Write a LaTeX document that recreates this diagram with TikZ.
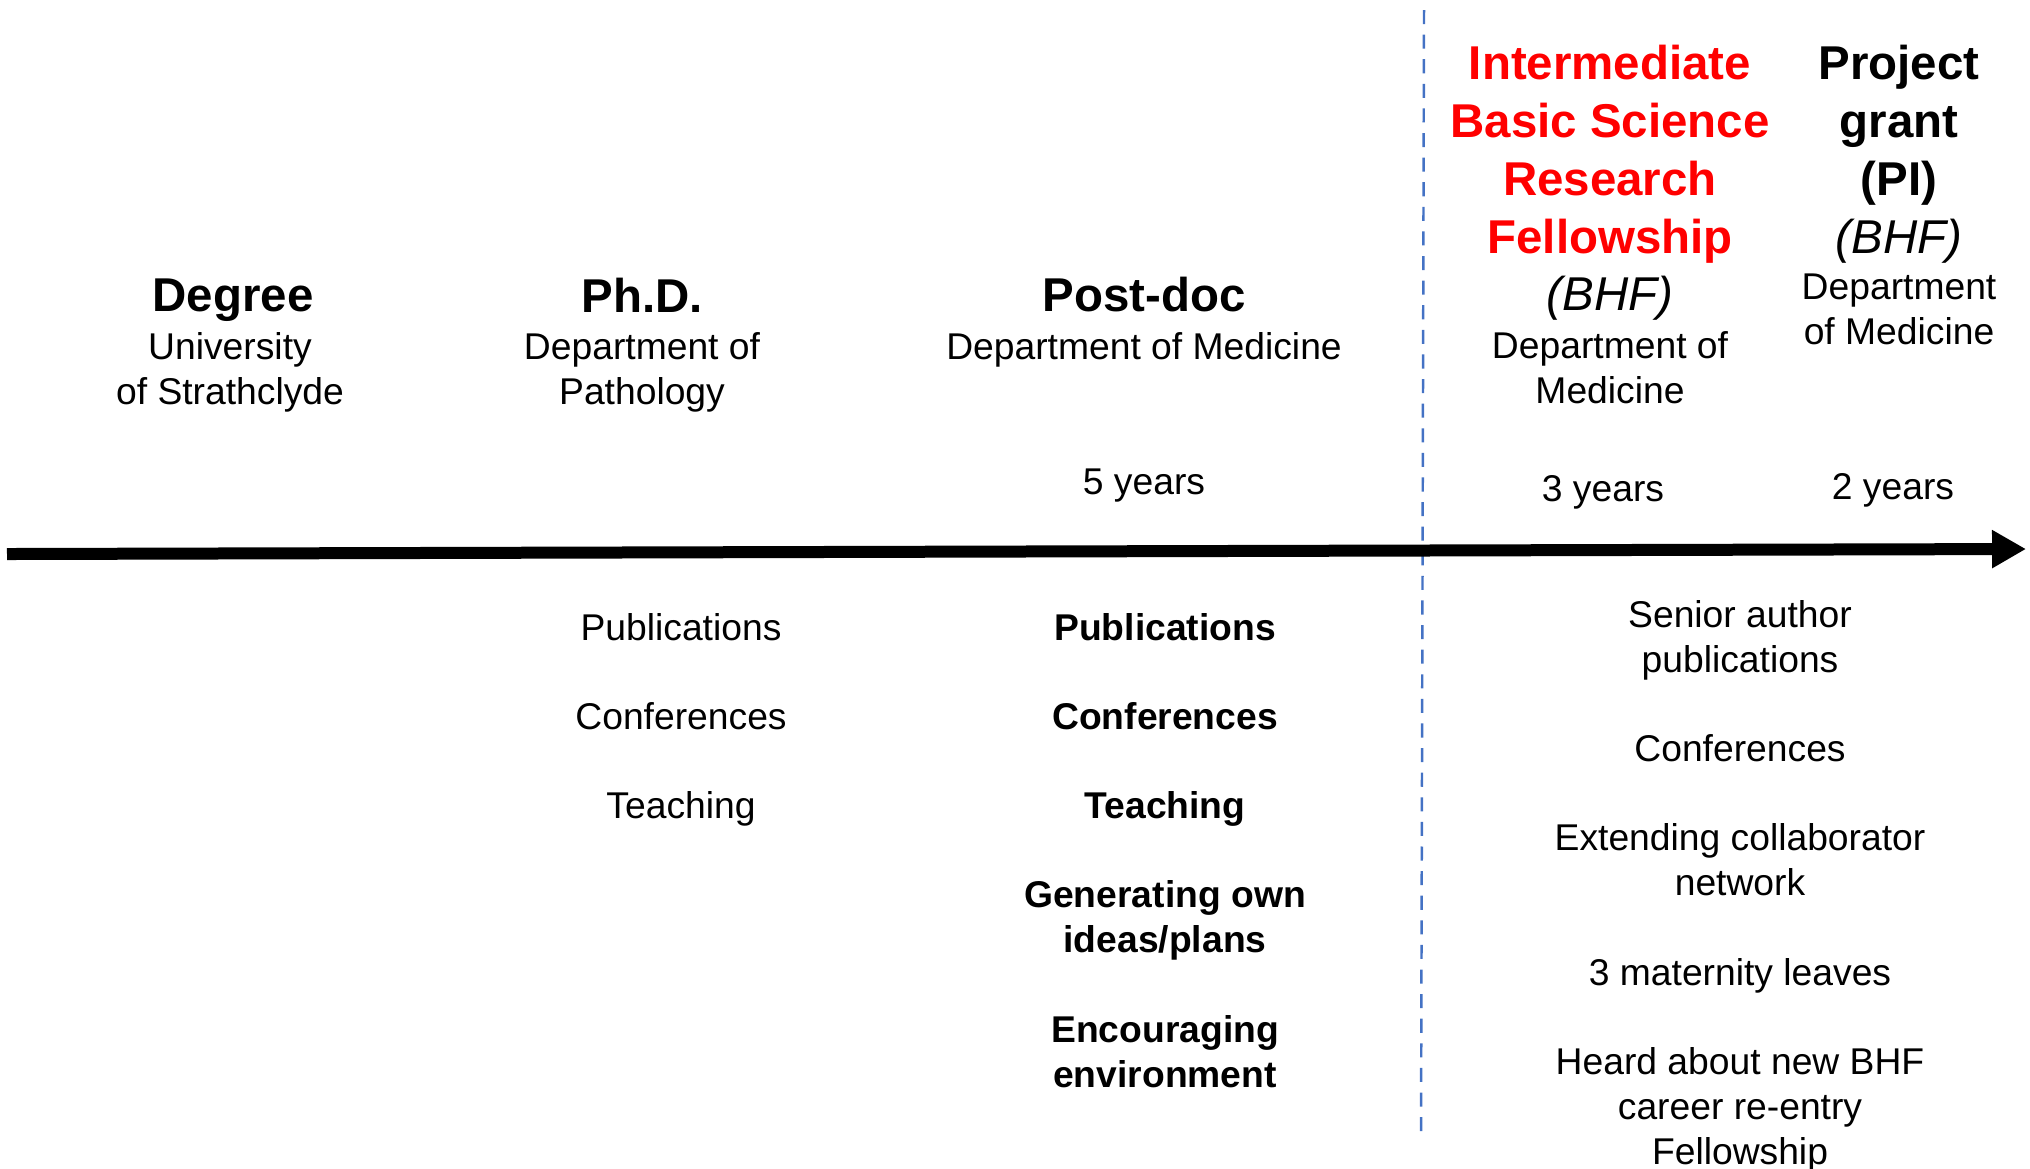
\documentclass[tikz,border=0pt]{standalone}
\usepackage{fontspec}
\setmainfont{Liberation Sans}
\usepackage{xcolor}
\usepackage{tikz}
\usetikzlibrary{arrows.meta}
\definecolor{ink}{HTML}{000000}
\definecolor{hot}{HTML}{FF0000}
\definecolor{split}{HTML}{4472C4}
\tikzset{
  axis/.style={draw=ink, line width=0.12cm, -{Triangle[length=0.34cm,width=0.36cm]}},
  divide/.style={draw=split, line width=0.7pt, dash pattern=on 4pt off 3pt},
  lab/.style={text=ink, align=center, inner sep=0pt, font=\fontsize{10.6}{12.8}\selectfont},
  labb/.style={lab, font=\fontsize{10.6}{12.8}\selectfont\bfseries},
  labi/.style={lab, font=\fontsize{13.5}{16.5}\selectfont\itshape},
  head/.style={lab, font=\fontsize{13.5}{16.5}\selectfont\bfseries},
  headred/.style={head, text=hot},
}
\begin{document}
\begin{tikzpicture}
  \useasboundingbox (0,0) rectangle (20.3,-11.68);
  \coordinate (t0) at (0.07,-5.54);
  \coordinate (t1) at (20.26,-5.49);
  \coordinate (d0) at (14.24,-0.10);
  \coordinate (d1) at (14.21,-11.39);
  \draw[divide] (d0) -- (d1);
  \draw[axis] (t0) -- (t1);
  % above the line
  \node[head] (degree) at (2.33,-3.00) {Degree};
  \node[lab] (strath) at (2.30,-3.72) {University\\of Strathclyde};
  \node[head] (phd) at (6.42,-2.95) {Ph.D.};
  \node[lab] (path) at (6.42,-3.72) {Department of\\Pathology};
  \node[head] (postdoc) at (11.44,-2.95) {Post-doc};
  \node[lab] (postdept) at (11.44,-3.50) {Department of Medicine};
  \node[lab] (postyrs) at (11.44,-4.86) {5 years};
  \node[headred] (fellow) at (16.10,-1.54) {Intermediate\\Basic Science\\Research\\Fellowship};
  \node[labi] (fellowbhf) at (16.10,-2.98) {(BHF)};
  \node[lab] (fellowdept) at (16.10,-3.68) {Department of\\Medicine};
  \node[lab] (fellowyrs) at (16.03,-4.92) {3 years};
  \node[head] (grant) at (18.99,-1.25) {Project\\grant\\(PI)};
  \node[labi] (grantbhf) at (18.99,-2.41) {(BHF)};
  \node[lab] (grantdept) at (18.99,-3.09) {Department\\of Medicine};
  \node[lab] (grantyrs) at (18.93,-4.90) {2 years};
  % below the line
  \node[lab] (phdpub) at (6.81,-6.27) {Publications};
  \node[lab] (phdconf) at (6.81,-7.16) {Conferences};
  \node[lab] (phdteach) at (6.81,-8.09) {Teaching};
  \node[labb] (pdpub) at (11.65,-6.27) {Publications};
  \node[labb] (pdconf) at (11.65,-7.16) {Conferences};
  \node[labb] (pdteach) at (11.65,-8.09) {Teaching};
  \node[labb] (pdideas) at (11.65,-9.20) {Generating own\\ideas/plans};
  \node[labb] (pdenv) at (11.65,-10.52) {Encouraging\\environment};
  \node[lab] (frpub) at (17.40,-6.40) {Senior author\\publications};
  \node[lab] (frconf) at (17.40,-7.48) {Conferences};
  \node[lab] (frnet) at (17.40,-8.60) {Extending collaborator\\network};
  \node[lab] (frmat) at (17.40,-9.76) {3 maternity leaves};
  \node[lab] (frbhf) at (17.40,-11.10) {Heard about new BHF\\career re-entry\\Fellowship};
\end{tikzpicture}
\end{document}
